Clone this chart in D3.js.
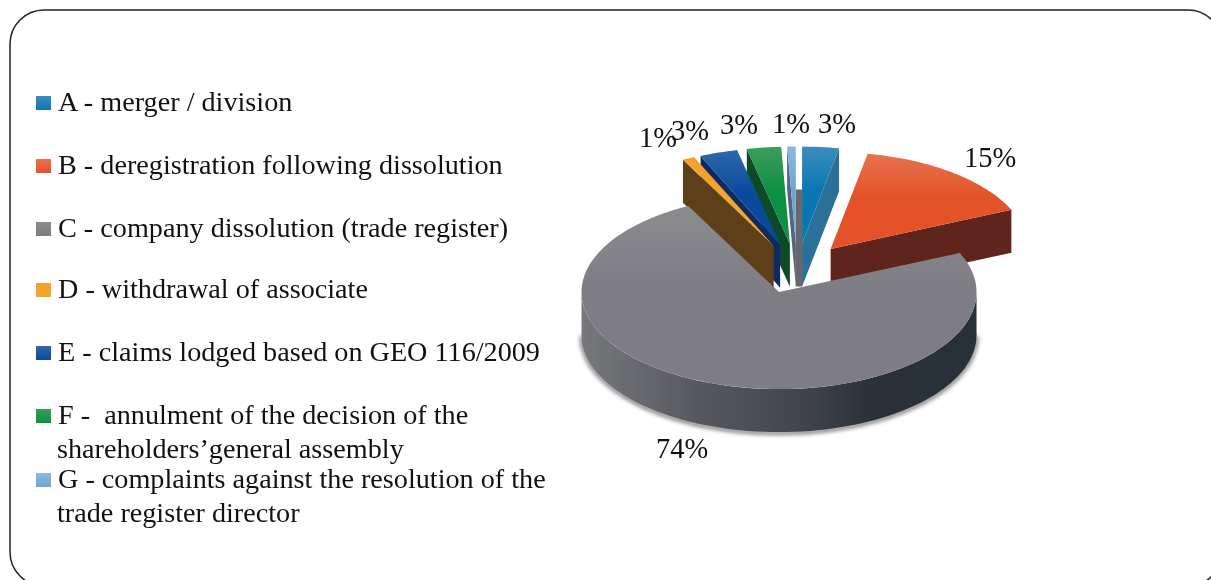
<!DOCTYPE html>
<html><head><meta charset="utf-8">
<script src="https://cdn.jsdelivr.net/npm/d3@7"></script>
<style>html,body{margin:0;padding:0;background:#fff;overflow:hidden}svg{display:block;filter:blur(.45px)}text{font-family:"Liberation Serif",serif;fill:#111}</style>
</head><body><div id="chart"></div>
<script>
const categories=["A","B","C","D","E","F","G"];
const values=[3,15.4,74,1,3.1,2.8,0.7];
const valueLabels=["3%","15%","74%","1%","3%","3%","1%"];
const legendLines=[["A - merger / division"],["B - deregistration following dissolution"],["C - company dissolution (trade register)"],["D - withdrawal of associate"],["E - claims lodged based on GEO 116/2009"],["F -  annulment of the decision of the","shareholders’general assembly"],["G - complaints against the resolution of the","trade register director"]];
const legendBaselines=[[111],[174],[237],[298],[361],[424,458],[488,522]];
const topColors=[["#3a8dbb","#0b77b2"],["#e8734e","#e4522a"],["#8b8b90","#7e7d84"],["#f0a02c","#f5a62c"],["#2c68ac","#0a4a9c"],["#3d9c5c","#0e9044"],["#8cbade","#6ca6d4"]];
const wallColors=["#2b7099","#5f251d","#44474e","#5d3f1a","#0f2a5f","#0e4a28","#54657c"];
const labelPos=[[837,133],[990,167],[682,458],[658,147],[690,140],[739,134],[791,133]];
const W=1211,H=580,cx=797,cy=268.5,rx=197.5,ry=97,depth=43,ex=54,ey=25;
const svg=d3.select("#chart").append("svg").attr("width",W).attr("height",H);
const defs=svg.append("defs");
topColors.forEach((c,i)=>{const g=defs.append("linearGradient").attr("id","top"+i).attr("x1",0).attr("y1",0).attr("x2",0).attr("y2",1);
 g.append("stop").attr("offset","0%").attr("stop-color",c[0]);g.append("stop").attr("offset","45%").attr("stop-color",c[1]);g.append("stop").attr("offset","100%").attr("stop-color",c[1]);
 const l=defs.append("linearGradient").attr("id","leg"+i).attr("x1",0).attr("y1",0).attr("x2",0).attr("y2",1);
 l.append("stop").attr("offset","0%").attr("stop-color",c[0]);l.append("stop").attr("offset","100%").attr("stop-color",c[1]);});
const cw=defs.append("linearGradient").attr("id","wallC").attr("x1",0).attr("y1",0).attr("x2",1).attr("y2",0);
[["0%","#77787c"],["30%","#56585e"],["55%","#42454c"],["75%","#2a3038"],["100%","#27313a"]].forEach(s=>cw.append("stop").attr("offset",s[0]).attr("stop-color",s[1]));
const sh=defs.append("filter").attr("id","soft").attr("x","-5%").attr("y","-5%").attr("width","110%").attr("height","115%");
sh.append("feGaussianBlur").attr("stdDeviation",2);
const fx=d3.scaleLinear().domain([-1,1]).range([-rx,rx]),fy=d3.scaleLinear().domain([-1,1]).range([-ry,ry]);
const arcs=d3.pie().sort(null)(values);
const line=d3.line();
function geom(d){const m=(d.startAngle+d.endAngle)/2,ox=cx+ex*Math.sin(m),oy=cy-ey*Math.cos(m);
 const pt=a=>[ox+fx(Math.sin(a)),oy+fy(-Math.cos(a))];
 const n=Math.max(4,Math.ceil((d.endAngle-d.startAngle)*40));
 const rim=d3.range(n+1).map(k=>pt(d.startAngle+(d.endAngle-d.startAngle)*k/n));
 return {o:[ox,oy],pt,rim};}
const edgeWall=(o,p)=>line([o,p,[p[0],p[1]+depth],[o[0],o[1]+depth]])+"Z";
const order=[6,5,4,3,0,1,2];
const g=svg.append("g");
// sliver of grey inner wall seen in the gap between slices G and A
const gG=geom(arcs[6]),gA=geom(arcs[0]);
g.append("path").attr("d",line([[gG.o[0],gG.pt(arcs[6].endAngle)[1]+depth],[gA.o[0],gA.pt(0)[1]+depth],[gA.o[0],gA.o[1]+depth],[gG.o[0],gG.o[1]+depth]])+"Z").attr("fill","#68686c");
order.forEach(i=>{const d=arcs[i],s=geom(d);
 const slice=g.append("g").attr("class","slice-"+categories[i]);
 if(i===2){
  const a0=Math.PI/2,a1=3*Math.PI/2,n=80,front=d3.range(n+1).map(k=>s.pt(a0+(a1-a0)*k/n));
  const wallPts=front.concat(front.slice().reverse().map(p=>[p[0],p[1]+depth]));
  const shadowPts=front.map(p=>[p[0],p[1]+depth+1]);
  slice.append("path").attr("d",line(shadowPts)).attr("fill","none").attr("stroke","#555").attr("stroke-width",3).attr("filter","url(#soft)");
  slice.append("path").attr("d",line(wallPts)+"Z").attr("fill","url(#wallC)");
 } else {
  const a=i===0||i===1?d.endAngle:d.startAngle;
  slice.append("path").attr("d",edgeWall(s.o,s.pt(a))).attr("fill",wallColors[i]);
 }
 slice.append("path").attr("d",line([s.o,...s.rim])+"Z").attr("fill",`url(#top${i})`);
});
svg.append("g").selectAll("text").data(valueLabels).join("text").attr("x",(d,i)=>labelPos[i][0]).attr("y",(d,i)=>labelPos[i][1]).attr("text-anchor","middle").attr("font-size",28.5).text(d=>d);
const leg=svg.append("g");
categories.forEach((c,i)=>{
 leg.append("rect").attr("x",36).attr("y",legendBaselines[i][0]-15).attr("width",15).attr("height",14).attr("fill",`url(#leg${i})`);
 legendLines[i].forEach((t,j)=>leg.append("text").attr("x",j?57:58).attr("y",legendBaselines[i][j]).attr("font-size",28.2).style("white-space","pre").text(t));
});
svg.append("rect").attr("x",10).attr("y",10).attr("width",1212).attr("height",576).attr("rx",34).attr("ry",34).attr("fill","none").attr("stroke","#222").attr("stroke-width",1.5);
</script></body></html>
